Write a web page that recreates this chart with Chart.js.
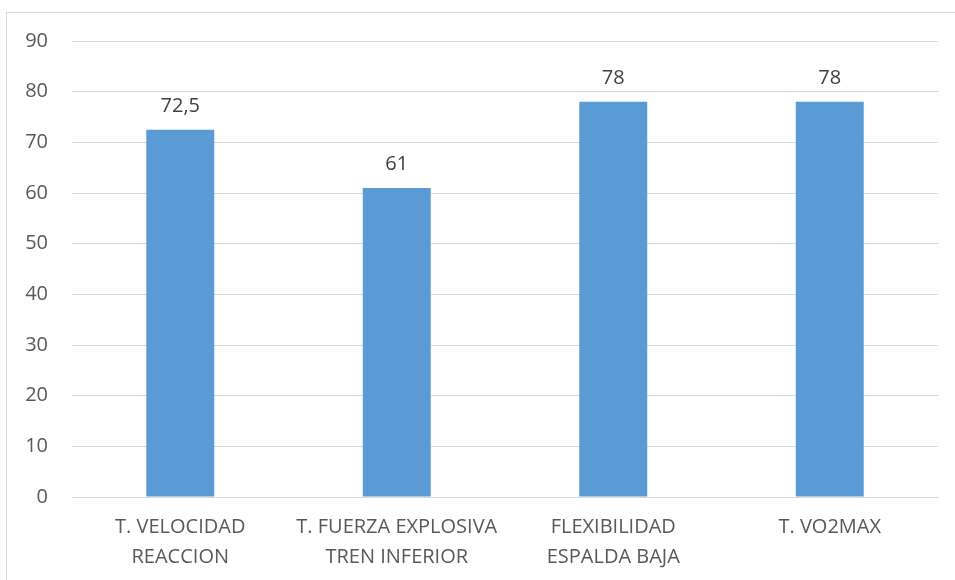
<!DOCTYPE html>
<html>
<head>
<meta charset="utf-8">
<script src="https://cdn.jsdelivr.net/npm/chart.js@4/dist/chart.umd.min.js"></script>
<style>
  html, body { margin: 0; padding: 0; background: #fff; overflow: hidden; }
  #frame { position: absolute; left: 6px; top: 12px; width: 970px; height: 600px; border: 1px solid #d9d9d9; }
  #wrap { position: absolute; left: 0; top: 0; width: 955px; height: 580px; }
</style>
</head>
<body>
<div id="frame"></div>
<div id="wrap"><canvas id="chart"></canvas></div>
<script>
// categories and values
var categories = [
	["T. VELOCIDAD", "REACCION"],
	["T. FUERZA EXPLOSIVA", "TREN INFERIOR"],
	["FLEXIBILIDAD", "ESPALDA BAJA"],
	["T. VO2MAX"]
]
var values      = [72.5, 61, 78, 78]
var valueLabels = ["72,5", "61", "78", "78"]
var yTicks      = [0, 10, 20, 30, 40, 50, 60, 70, 80, 90]

var textColor = "#595959"
var fontFamily = "'Open Sans', 'Noto Sans', sans-serif"

// draws the number above each bar
var barValues = {
	id: "barValues",
	afterDatasetsDraw: function (chart) {
		var ctx = chart.ctx
		var meta = chart.getDatasetMeta(0)
		ctx.save()
		ctx.fillStyle = "#404040"
		ctx.font = "20px " + fontFamily
		ctx.textAlign = "center"
		ctx.textBaseline = "alphabetic"
		meta.data.forEach(function (bar, i) {
			ctx.fillText(valueLabels[i], bar.x, bar.y - 18)
		})
		ctx.restore()
	}
}

new Chart(document.getElementById("chart"), {
	type: "bar",
	data: {
		labels: categories,
		datasets: [{
			data: values,
			backgroundColor: "#5b9bd5",
			categoryPercentage: 1,
			barPercentage: 0.314
		}]
	},
	options: {
		responsive: true,
		maintainAspectRatio: false,
		animation: false,
		layout: { padding: { top: 41, right: 17, left: 0, bottom: 0 } },
		plugins: { legend: { display: false }, tooltip: { enabled: false } },
		scales: {
			x: {
				grid: { display: false, drawTicks: false },
				border: { color: "#d9d9d9", width: 1 },
				ticks: { color: textColor, font: { family: fontFamily, size: 20, lineHeight: 1.5 }, padding: 15, maxRotation: 0, autoSkip: false },
				afterFit: function (scale) { scale.height = 83 }
			},
			y: {
				min: 0,
				max: 90,
				afterBuildTicks: function (scale) {
					scale.ticks = yTicks.map(function (v) { return { value: v } })
				},
				grid: { color: "#d9d9d9", lineWidth: 1, drawTicks: false },
				border: { display: false },
				ticks: { color: textColor, font: { family: fontFamily, size: 20 }, padding: 24 },
				afterFit: function (scale) { scale.width = 72 }
			}
		}
	},
	plugins: [barValues]
})
</script>
</body>
</html>
